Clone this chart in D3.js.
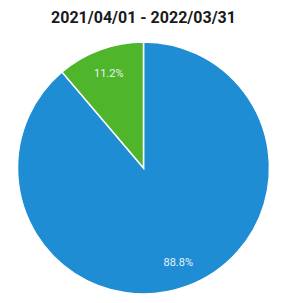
<!DOCTYPE html>
<html>
<head>
<meta charset="utf-8">
<script src="https://cdn.jsdelivr.net/npm/d3@7"></script>
<style>
  body { margin: 0; background: #fff; }
  svg { display: block; }
</style>
</head>
<body>
<div id="holder"></div>
<script>
var width = 281;
var height = 303;
var title = "2021/04/01 - 2022/03/31";
var labels = ["A", "B"];
var values = [88.8, 11.2];
var colors = ["#1f8dd4", "#4fb52b"];

var cx = 143.5;
var cy = 168;
var radius = 126;

var svg = d3.select("#holder")
  .append("svg")
  .attr("width", width)
  .attr("height", height);

svg.append("text")
  .attr("x", cx)
  .attr("y", 23)
  .attr("text-anchor", "middle")
  .attr("font-family", "Roboto, sans-serif")
  .attr("font-weight", "bold")
  .attr("font-size", 16)
  .attr("fill", "#1a1a1a")
  .text(title);

var pie = d3.pie().sort(null).value(d => d);
var arc = d3.arc().innerRadius(0).outerRadius(radius);
var labelArc = d3.arc().innerRadius(radius * 0.8).outerRadius(radius * 0.8);

var g = svg.append("g")
  .attr("transform", "translate(" + cx + "," + cy + ")");

var slices = pie(values);

g.selectAll("path")
  .data(slices)
  .enter().append("path")
  .attr("d", arc)
  .attr("fill", (d, i) => colors[i])
  .attr("stroke", "#fff")
  .attr("stroke-width", 1.5);

g.selectAll("text")
  .data(slices)
  .enter().append("text")
  .attr("transform", d => "translate(" + labelArc.centroid(d) + ")")
  .attr("text-anchor", "middle")
  .attr("dy", "0.35em")
  .attr("font-family", "Roboto, sans-serif")
  .attr("font-size", 11)
  .attr("fill", "#e8f2f8")
  .text(d => d.data.toFixed(1) + "%");
</script>
</body>
</html>
